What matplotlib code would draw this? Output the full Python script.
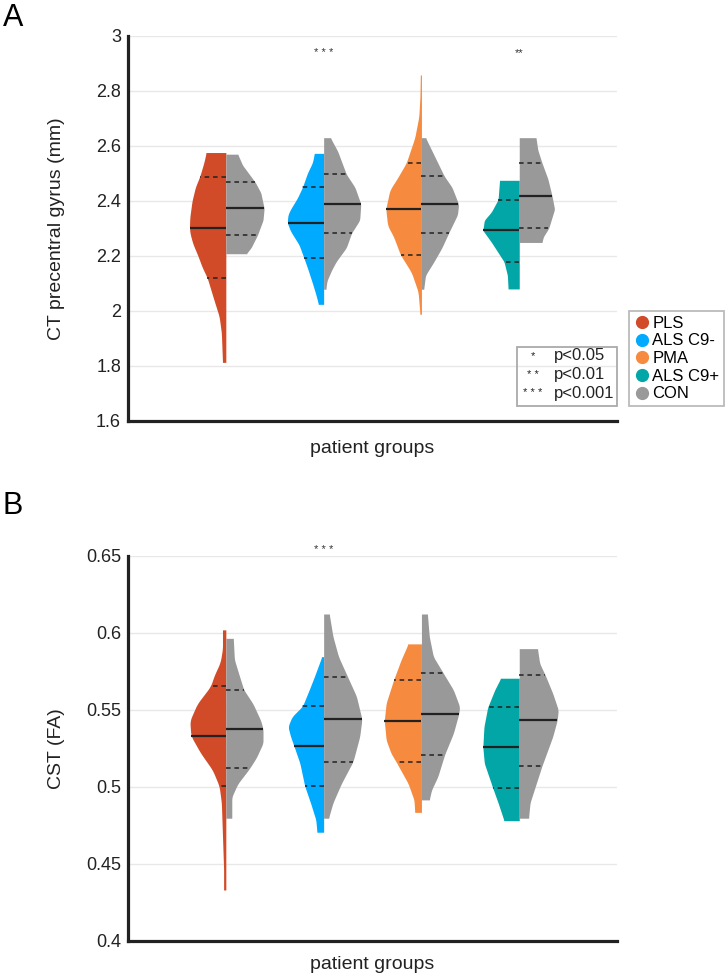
import numpy as np
import matplotlib
matplotlib.use("Agg")
import matplotlib.pyplot as plt
from matplotlib.lines import Line2D
from matplotlib.patches import Rectangle

plt.rcParams["font.family"] = ["Liberation Sans", "DejaVu Sans"]

groups = ["PLS", "ALS C9-", "PMA", "ALS C9+"]
group_colors = ["#d14b28", "#00aaff", "#f68b3f", "#03a6a6"]
con_color = "#999999"

# CT precentral gyrus: density profiles (value, relative half-width) per group
ct_pat_y = [
    [1.813, 1.92, 1.98, 2.04, 2.12, 2.16, 2.20, 2.245, 2.28, 2.30, 2.34, 2.40, 2.45, 2.49, 2.54, 2.576],
    [2.024, 2.06, 2.10, 2.15, 2.192, 2.24, 2.29, 2.321, 2.35, 2.37, 2.41, 2.45, 2.50, 2.54, 2.573],
    [1.988, 2.07, 2.14, 2.205, 2.27, 2.31, 2.371, 2.44, 2.48, 2.538, 2.63, 2.707, 2.78, 2.858],
    [2.08, 2.13, 2.179, 2.25, 2.293, 2.33, 2.36, 2.405, 2.44, 2.475],
]
ct_pat_d = [
    [0.09, 0.12, 0.18, 0.32, 0.50, 0.64, 0.75, 0.89, 0.96, 0.98, 0.97, 0.91, 0.82, 0.70, 0.59, 0.53],
    [0.14, 0.21, 0.30, 0.42, 0.53, 0.66, 0.89, 0.98, 0.96, 0.89, 0.71, 0.57, 0.44, 0.30, 0.25],
    [0.04, 0.09, 0.27, 0.57, 0.75, 0.91, 0.96, 0.85, 0.66, 0.41, 0.18, 0.07, 0.04, 0.03],
    [0.30, 0.32, 0.41, 0.75, 0.98, 0.94, 0.75, 0.57, 0.55, 0.53],
]
ct_con_y = [
    [2.208, 2.23, 2.276, 2.33, 2.373, 2.43, 2.468, 2.53, 2.570],
    [2.079, 2.11, 2.15, 2.18, 2.23, 2.283, 2.33, 2.389, 2.45, 2.497, 2.54, 2.58, 2.630],
    [2.079, 2.13, 2.18, 2.23, 2.283, 2.35, 2.388, 2.45, 2.491, 2.58, 2.630],
    [2.249, 2.27, 2.300, 2.37, 2.419, 2.48, 2.539, 2.585, 2.630],
]
ct_con_d = [
    [0.55, 0.68, 0.85, 1.0, 1.03, 0.94, 0.79, 0.45, 0.32],
    [0.06, 0.09, 0.22, 0.34, 0.61, 0.75, 0.97, 1.0, 0.84, 0.61, 0.49, 0.38, 0.18],
    [0.06, 0.11, 0.34, 0.55, 0.73, 0.97, 1.0, 0.82, 0.61, 0.29, 0.11],
    [0.61, 0.65, 0.79, 0.95, 0.88, 0.77, 0.61, 0.50, 0.45],
]
# quartiles: q1, median, q3
ct_pat_q = [[2.119, 2.303, 2.488], [2.192, 2.321, 2.450], [2.205, 2.371, 2.538], [2.179, 2.293, 2.405]]
ct_con_q = [[2.276, 2.373, 2.468], [2.283, 2.389, 2.497], [2.283, 2.388, 2.491], [2.300, 2.419, 2.539]]
ct_stars = ["", "* * *", "", "**"]

# CST fractional anisotropy
cst_pat_y = [
    [0.4331, 0.4465, 0.468, 0.4897, 0.5006, 0.511, 0.522, 0.5331, 0.543, 0.554, 0.5654, 0.572, 0.581, 0.5897, 0.602],
    [0.4706, 0.4786, 0.4894, 0.5006, 0.5154, 0.5266, 0.5327, 0.5392, 0.5457, 0.5524, 0.563, 0.5716, 0.5846],
    [0.4835, 0.4915, 0.5023, 0.5162, 0.5219, 0.5305, 0.5431, 0.5544, 0.5695, 0.5824, 0.5929],
    [0.4781, 0.4897, 0.4991, 0.5154, 0.5258, 0.5391, 0.5517, 0.563, 0.5706],
]
cst_pat_d = [
    [0.06, 0.06, 0.09, 0.12, 0.18, 0.36, 0.68, 0.94, 0.97, 0.77, 0.41, 0.32, 0.15, 0.09, 0.09],
    [0.18, 0.21, 0.35, 0.51, 0.64, 0.80, 0.89, 0.96, 0.85, 0.57, 0.39, 0.25, 0.05],
    [0.18, 0.20, 0.36, 0.68, 0.82, 0.95, 1.0, 0.95, 0.75, 0.55, 0.36],
    [0.41, 0.57, 0.71, 0.94, 0.98, 0.95, 0.85, 0.66, 0.50],
]
cst_con_y = [
    [0.4797, 0.4935, 0.502, 0.5121, 0.519, 0.5284, 0.5377, 0.543, 0.554, 0.5632, 0.574, 0.5827, 0.5965],
    [0.4797, 0.4897, 0.5019, 0.5165, 0.5327, 0.544, 0.559, 0.5712, 0.5846, 0.5977, 0.6123],
    [0.4916, 0.498, 0.5067, 0.5208, 0.5349, 0.5472, 0.552, 0.563, 0.5738, 0.5846, 0.5977, 0.6123],
    [0.4797, 0.4897, 0.5002, 0.5136, 0.5327, 0.5433, 0.55, 0.5608, 0.5725, 0.5802, 0.5898],
]
cst_con_d = [
    [0.16, 0.16, 0.32, 0.64, 0.82, 1.0, 1.0, 0.94, 0.73, 0.48, 0.34, 0.23, 0.20],
    [0.13, 0.25, 0.47, 0.79, 0.97, 1.03, 0.88, 0.65, 0.40, 0.25, 0.15],
    [0.21, 0.27, 0.44, 0.62, 0.86, 1.0, 1.03, 0.86, 0.59, 0.32, 0.21, 0.16],
    [0.25, 0.29, 0.43, 0.61, 0.90, 1.02, 1.05, 0.90, 0.70, 0.55, 0.49],
]
cst_pat_q = [[0.5006, 0.5331, 0.5654], [0.5006, 0.5266, 0.5524], [0.5162, 0.5431, 0.5695], [0.4991, 0.5258, 0.5517]]
cst_con_q = [[0.5121, 0.5377, 0.5632], [0.5165, 0.544, 0.5712], [0.5208, 0.5472, 0.5738], [0.5136, 0.5433, 0.5725]]
cst_stars = ["", "* * *", "", ""]

p_stars = ["*", "* *", "* * *"]
p_labels = ["p<0.05", "p<0.01", "p<0.001"]

WIDTH = 0.38


def smooth_profile(y, d, n=200, k=7):
    yy = np.linspace(y[0], y[-1], n)
    dd = np.interp(yy, y, d)
    pad = np.pad(dd, k // 2, mode="edge")
    dd = np.convolve(pad, np.ones(k) / k, mode="valid")
    return yy, dd


def draw_half(ax, pos, y, d, q, color, side):
    yy, dd = smooth_profile(y, d)
    w = dd * WIDTH * side
    ax.fill_betweenx(yy, pos, pos + w, color=color, lw=0, zorder=2)
    for j, val in enumerate(q):
        half = np.interp(val, yy, dd) * WIDTH * side
        if j == 1:
            ax.plot([pos, pos + half], [val, val], color="#222222", lw=1.6, zorder=3,
                    solid_capstyle="butt")
        else:
            ax.plot([pos, pos + half], [val, val], color="#222222", lw=1.1, zorder=3,
                    ls=(0, (3, 2.5)))


def style_axes(ax, ylim, yticks, ylabel, xlab_y):
    ax.set_xlim(-1, 4)
    ax.set_ylim(*ylim)
    ax.set_yticks(yticks)
    ax.set_yticklabels([f"{t:g}" for t in yticks], fontsize=13)
    ax.set_xticks([])
    ax.tick_params(axis="y", length=0, pad=5, colors="#222222")
    for s in ["top", "right"]:
        ax.spines[s].set_visible(False)
    for s in ["left", "bottom"]:
        ax.spines[s].set_linewidth(2.3)
        ax.spines[s].set_color("#222222")
    ax.grid(axis="y", color="#e8e8e8", lw=1, zorder=0)
    ax.set_axisbelow(True)
    ax.set_ylabel(ylabel, fontsize=14, color="#222222")
    ax.yaxis.set_label_coords(-0.128, 0.5)
    ax.set_xlabel("patient groups", fontsize=14, color="#222222")
    ax.xaxis.set_label_coords(0.5, xlab_y)


fig = plt.figure(figsize=(7.25, 9.76), dpi=100)
ax1 = fig.add_axes([0.1766, 0.5687, 0.6745, 0.3945])
ax2 = fig.add_axes([0.1766, 0.0359, 0.6745, 0.3945])

for i in range(len(groups)):
    draw_half(ax1, i, ct_pat_y[i], ct_pat_d[i], ct_pat_q[i], group_colors[i], -1)
    draw_half(ax1, i, ct_con_y[i], ct_con_d[i], ct_con_q[i], con_color, 1)
    draw_half(ax2, i, cst_pat_y[i], cst_pat_d[i], cst_pat_q[i], group_colors[i], -1)
    draw_half(ax2, i, cst_con_y[i], cst_con_d[i], cst_con_q[i], con_color, 1)
    if ct_stars[i]:
        ax1.text(i, 2.937, ct_stars[i], ha="center", va="center", fontsize=8, color="#333333")
    if cst_stars[i]:
        ax2.text(i, 0.654, cst_stars[i], ha="center", va="center", fontsize=8, color="#333333",
                 clip_on=False)

style_axes(ax1, (1.6, 3.0), [1.6, 1.8, 2.0, 2.2, 2.4, 2.6, 2.8, 3.0], "CT precentral gyrus (mm)", -0.05)
style_axes(ax2, (0.4, 0.65), [0.4, 0.45, 0.5, 0.55, 0.6, 0.65], "CST (FA)", -0.04)

# significance key box
ax1.add_patch(Rectangle((0.795, 0.039), 0.204, 0.154, transform=ax1.transAxes, fill=False,
                        ec="#aaaaaa", lw=1.3, zorder=5, clip_on=False))
for j, (s, lab) in enumerate(zip(p_stars, p_labels)):
    yy = 0.169 - j * 0.0485
    ax1.text(0.828, yy, s, transform=ax1.transAxes, ha="center", va="center", fontsize=8,
             color="#222222")
    ax1.text(0.870, yy, lab, transform=ax1.transAxes, ha="left", va="center", fontsize=12,
             color="#222222")

# group legend
handles = [Line2D([], [], marker="o", ls="", color=c, markersize=8.5) for c in group_colors + [con_color]]
leg = fig.legend(handles, groups + ["CON"], loc="upper left", bbox_to_anchor=(629 / 725, 1 - 310.7 / 976),
                 fontsize=12, frameon=True, fancybox=False, labelspacing=0.16, handletextpad=0.1,
                 borderpad=0.3, handlelength=1.0, borderaxespad=0)
leg.get_frame().set_edgecolor("#aaaaaa")
leg.get_frame().set_linewidth(1.3)

fig.text(0.004, 0.997, "A", fontsize=22, ha="left", va="top")
fig.text(0.004, 0.497, "B", fontsize=22, ha="left", va="top")

fig.savefig("out.png", dpi=100)
